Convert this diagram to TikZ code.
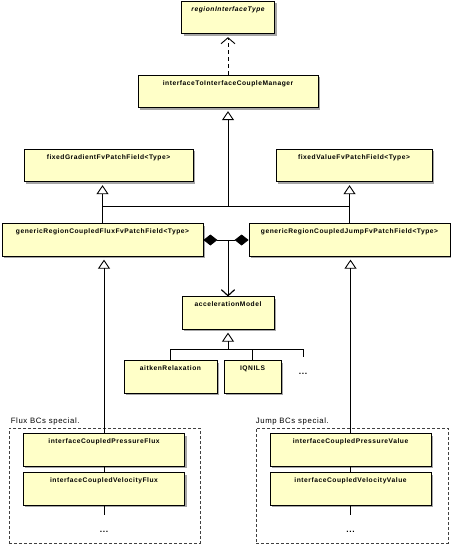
\documentclass[tikz,border=0pt]{standalone}
\usepackage{fontspec}
\newfontfamily\umlfont[LetterSpace=8]{Liberation Sans}
\usetikzlibrary{arrows.meta, shadows}
\definecolor{classfill}{HTML}{FFFFC8}

\begin{document}
\begin{tikzpicture}[x=1bp, y=-1bp,
        font=\umlfont\fontsize{6.7}{8}\selectfont\bfseries,
        class/.style={draw=black, line width=0.8bp, fill=classfill,
              inner sep=0pt, text height=10bp, text depth=22.5bp,
              drop shadow={shadow xshift=2bp, shadow yshift=-2bp,
                           fill=black!35, opacity=1}},
        more/.style={inner sep=0pt, text height=17bp, anchor=north,
              font=\umlfont\fontsize{8.5}{9}\selectfont\bfseries},
        group/.style={draw=black!75, line width=0.8bp, dash pattern=on 3bp off 2bp},
        grouptitle/.style={anchor=south west, inner sep=2bp,
              font=\umlfont\fontsize{7.8}{9}\selectfont},
        inherit/.style={line width=0.9bp,
              -{Triangle[open, length=9bp, width=12bp]}, shorten >=3bp},
        realize/.style={line width=0.9bp, dash pattern=on 4bp off 3bp,
              -{Straight Barb[length=6bp, width=14bp]}, shorten >=3bp},
        comp/.style={line width=0.9bp,
              {Diamond[length=14bp, width=11bp]}-{Straight Barb[length=6bp, width=13bp]}}]
    \useasboundingbox (0,0) rectangle (451,545);

    % dashed groups of special BCs
    \node[group, minimum width=191bp, minimum height=115bp,
          label={[grouptitle]north west:Flux BCs special.}] (fluxgroup) at (104.5,485.5) {};
    \node[group, minimum width=192bp, minimum height=115bp,
          label={[grouptitle, inner xsep=0pt]north west:Jump BCs special.}] (jumpgroup) at (352,485.5) {};

    % classes
    \node[class, minimum width=93bp] (rit) at (228,17.5) {\itshape regionInterfaceType};
    \node[class, minimum width=180bp] (mgr) at (228,91.5) {interfaceToInterfaceCoupleManager};
    \node[class, minimum width=169bp] (fg) at (108.5,165.5) {fixedGradientFvPatchField<Type>};
    \node[class, minimum width=156bp] (fv) at (354,165.5) {fixedValueFvPatchField<Type>};
    \node[class, minimum width=201bp] (flux) at (102.5,240) {genericRegionCoupledFluxFvPatchField<Type>};
    \node[class, minimum width=201bp] (jump) at (349.5,240) {genericRegionCoupledJumpFvPatchField<Type>};
    \node[class, minimum width=92bp] (acc) at (228,313) {accelerationModel};
    \node[class, minimum width=93bp] (aitken) at (170.5,377) {aitkenRelaxation};
    \node[class, minimum width=57bp] (iqnils) at (252.5,377) {IQNILS};
    \node[more] (accmore) at (303,357) {...};
    \node[class, minimum width=161bp] (pflux) at (104,450) {interfaceCoupledPressureFlux};
    \node[class, minimum width=161bp] (vflux) at (104,489) {interfaceCoupledVelocityFlux};
    \node[more] (fluxmore) at (104,515) {...};
    \node[class, minimum width=161bp] (pval) at (350.5,450) {interfaceCoupledPressureValue};
    \node[class, minimum width=161bp] (vval) at (350.5,489) {interfaceCoupledVelocityValue};
    \node[more] (jumpmore) at (350.5,515) {...};

    \coordinate (genbar) at (228,206);
    \coordinate (accbar) at (228,349);

    % connectors
    \draw[realize] (mgr) -- (rit);
    \draw[inherit] (genbar) -- (mgr);
    \draw[line width=0.9bp] (flux.north |- genbar) -- (jump.north |- genbar);
    \draw[inherit] (flux.north) -- (flux.north |- fg.south);
    \draw[inherit] (jump.north) -- (jump.north |- fv.south);
    \draw[comp] (flux.east) -| (acc.north);
    \draw[comp] (jump.west) -| (acc.north);
    \draw[inherit] (aitken.north) |- (accbar) -- (acc.south);
    \draw[line width=0.9bp] (iqnils.north) -- (iqnils.north |- accbar);
    \draw[line width=0.9bp] (accbar) -| (accmore.north);
    \draw[inherit] (pflux.north) -- (pflux.north |- flux.south);
    \draw[inherit] (pval.north) -- (pval.north |- jump.south);
    \draw[line width=0.9bp] (pflux) -- (vflux);
    \draw[line width=0.9bp] (vflux) -- (fluxmore);
    \draw[line width=0.9bp] (pval) -- (vval);
    \draw[line width=0.9bp] (vval) -- (jumpmore);
\end{tikzpicture}
\end{document}
